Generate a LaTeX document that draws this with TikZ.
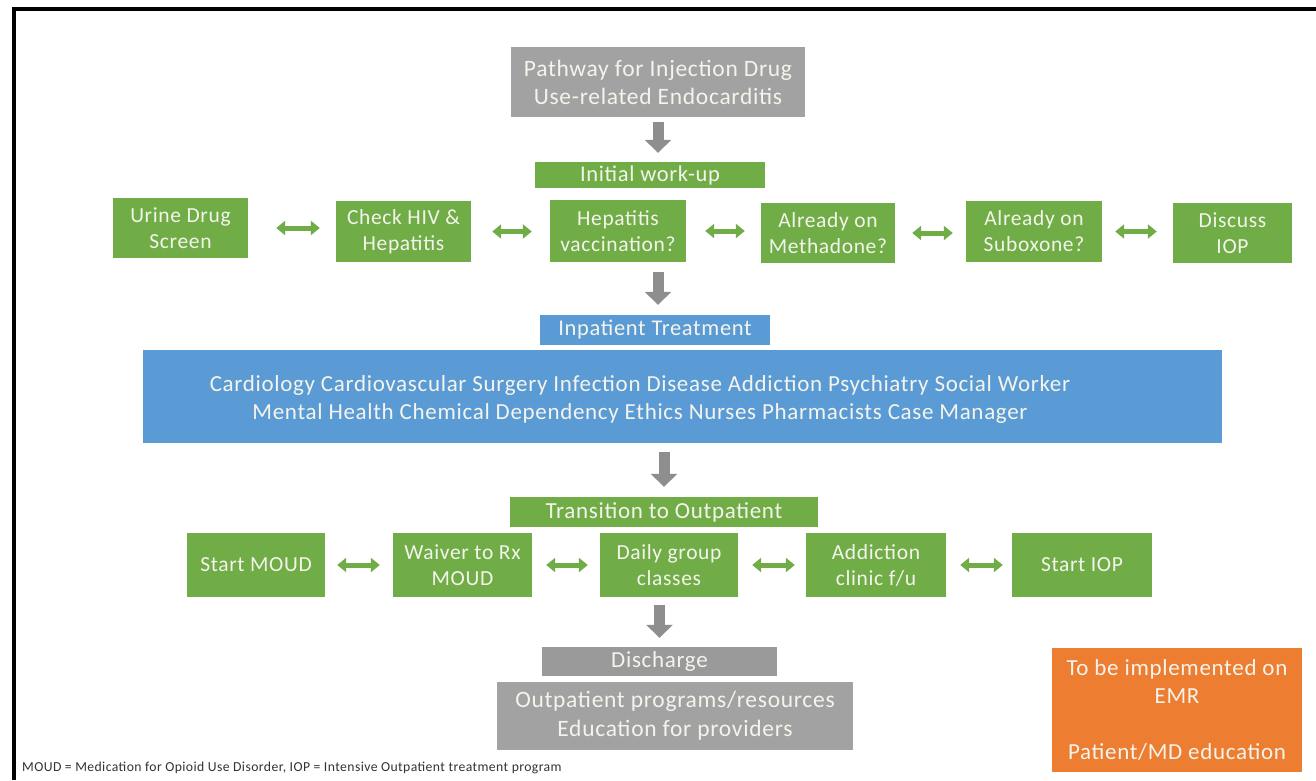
\documentclass[tikz,border=0pt]{standalone}
\usepackage{fontspec}
\setmainfont{Carlito}[LetterSpace=3]
\usetikzlibrary{arrows.meta,calc}
\definecolor{offgreen}{HTML}{70AD47}
\definecolor{offblue}{HTML}{5B9BD5}
\definecolor{offorange}{HTML}{ED7D31}
\definecolor{boxgray}{HTML}{A2A2A2}
\definecolor{arrgray}{HTML}{8E8E8E}
\definecolor{lighttxt}{HTML}{F4F4EC}
\tikzset{
  gbox/.style={draw=none, fill=offgreen, text=lighttxt, align=center, inner sep=2pt,
    font=\fontsize{21.5}{26}\selectfont},
  glabel/.style={fill=offgreen, text=lighttxt, align=center, inner sep=0pt,
    font=\fontsize{22.5}{24}\selectfont},
  graybox/.style={fill=boxgray, text=lighttxt, align=center, inner sep=0pt},
  downarrow/.style={draw=arrgray, line width=11pt, -{Triangle[width=26pt,length=13pt]}},
  dblarrow/.style={draw=offgreen, line width=5pt,
    {Triangle[width=14pt,length=9pt]}-{Triangle[width=14pt,length=9pt]}}
}
\begin{document}
\begin{tikzpicture}[x=1pt,y=-1pt]
\useasboundingbox (0,0) rectangle (1316,780);
\fill[white] (0,0) rectangle (1316,780);
% frame
\draw[line width=3.5pt, black] (14,780) -- (14,9) -- (1316,9);

% title
\node[graybox, minimum width=294pt, minimum height=70pt, font=\fontsize{23.5}{28}\selectfont]
  (title) at (658,82) {Pathway for Injection Drug\\Use-related Endocarditis};
\node[glabel, minimum width=230pt, minimum height=26pt] (init) at (650,175) {Initial work-up};

% row 1
\node[gbox, minimum width=135pt, minimum height=60pt] (urine) at (180.5,228) {Urine Drug\\Screen};
\node[gbox, minimum width=135pt, minimum height=61pt] (hiv) at (403.5,231.5) {Check HIV \&\\Hepatitis};
\node[gbox, minimum width=136pt, minimum height=62pt] (hepvac) at (618,231) {Hepatitis\\vaccination?};
\node[gbox, minimum width=134pt, minimum height=60pt] (metha) at (828,233) {Already on\\Methadone?};
\node[gbox, minimum width=136pt, minimum height=61pt] (subo) at (1034,231.5) {Already on\\Suboxone?};
\node[gbox, minimum width=119pt, minimum height=60pt] (discuss) at (1232.5,233) {Discuss\\IOP};

\draw[dblarrow, shorten <=28pt, shorten >=16pt] (urine.east) -- (urine.east -| hiv.west);
\draw[dblarrow, shorten <=21pt, shorten >=18pt] (hiv.east) -- (hiv.east -| hepvac.west);
\draw[dblarrow, shorten <=19pt, shorten >=16pt] (hepvac.east) -- (hepvac.east -| metha.west);
\draw[dblarrow, shorten <=17pt, shorten >=13pt] (metha.east) -- (metha.east -| subo.west);
\draw[dblarrow, shorten <=13pt, shorten >=16pt] (subo.east) -- (subo.east -| discuss.west);

% inpatient
\node[fill=offblue, text=lighttxt, inner sep=0pt, minimum width=230pt, minimum height=30pt,
  font=\fontsize{22.5}{24}\selectfont] (inpl) at (655,330) {Inpatient Treatment};
\node[fill=offblue, minimum width=1079pt, minimum height=93pt, inner sep=0pt] (big) at (682.5,396.5) {};
\node[text=lighttxt, align=center, inner sep=0pt, font=\fontsize{23}{28}\selectfont] (bigtext) at (640,399)
  {Cardiology Cardiovascular Surgery Infection Disease Addiction Psychiatry Social Worker\\
   Mental Health Chemical Dependency Ethics Nurses Pharmacists Case Manager};

\draw[downarrow, shorten <=5pt, shorten >=9pt] (title.south) -- (title.south |- init.north);
\draw[downarrow, shorten <=10pt, shorten >=10pt] (title.south |- hepvac.south) -- (title.south |- inpl.north);

% transition
\node[glabel, minimum width=308pt, minimum height=30pt, font=\fontsize{23}{24}\selectfont] (trans) at (664,512) {Transition to Outpatient};
\draw[downarrow, shorten <=9pt, shorten >=10pt] (trans.north |- big.south) -- (trans.north);

% row 2
\node[gbox, minimum width=138pt, minimum height=64pt] (smoud) at (256,565) {Start MOUD};
\node[gbox, minimum width=139pt, minimum height=64pt] (waiver) at (462.5,565) {Waiver to Rx\\MOUD};
\node[gbox, minimum width=138pt, minimum height=64pt] (daily) at (669,565) {Daily group\\classes};
\node[gbox, minimum width=140pt, minimum height=64pt] (addic) at (876,565) {Addiction\\clinic f/u};
\node[gbox, minimum width=140pt, minimum height=64pt] (siop) at (1082,565) {Start IOP};

\draw[dblarrow, shorten <=12pt, shorten >=13pt] (smoud.east) -- (waiver.west);
\draw[dblarrow, shorten <=14pt, shorten >=12pt] (waiver.east) -- (daily.west);
\draw[dblarrow, shorten <=14pt, shorten >=11pt] (daily.east) -- (addic.west);
\draw[dblarrow, shorten <=14pt, shorten >=9pt] (addic.east) -- (siop.west);

% discharge
\node[graybox, fill=boxgray!95!black, minimum width=235pt, minimum height=29pt,
  font=\fontsize{23}{24}\selectfont] (disch) at (659.5,661.5) {Discharge};
\draw[downarrow, shorten <=8pt, shorten >=9pt] (disch.north |- daily.south) -- (disch.north);
\node[graybox, minimum width=356pt, minimum height=68pt, font=\fontsize{23.5}{29}\selectfont]
  (outp) at (675,716) {Outpatient programs/resources\\Education for providers};

% orange
\node[fill=offorange, text=lighttxt, align=center, inner sep=0pt, minimum width=250pt,
  minimum height=124pt, font=\fontsize{23}{28}\selectfont] (emr) at (1177,710)
  {To be implemented on\\EMR\\[28pt]Patient/MD education};

% footer
\node[anchor=west, inner sep=0pt, text=black!80, font=\fontsize{13.7}{14}\selectfont] (foot) at (22,768)
  {MOUD = Medication for Opioid Use Disorder, IOP = Intensive Outpatient treatment program};
\end{tikzpicture}
\end{document}
